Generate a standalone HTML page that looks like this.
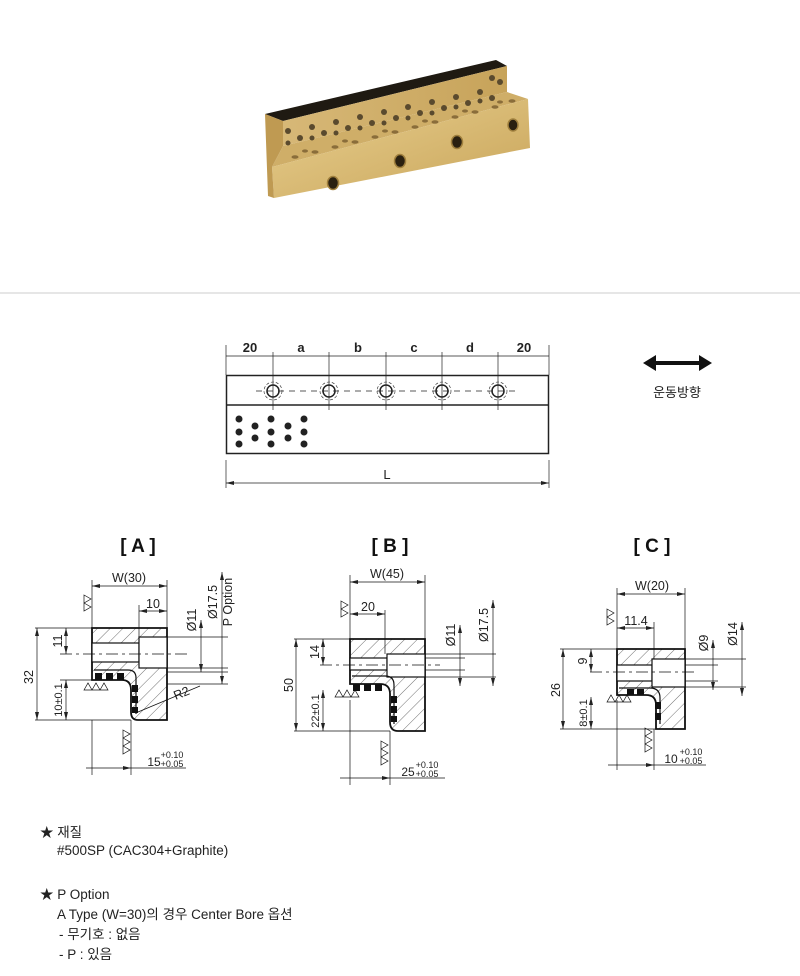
<!DOCTYPE html>
<html><head><meta charset="utf-8"><style>
html,body{margin:0;padding:0;background:#fff;}
body{width:800px;height:976px;position:relative;overflow:hidden;font-family:"Liberation Sans","Noto Sans CJK KR",sans-serif;}
.t{position:absolute;font-size:13.5px;color:#222;white-space:nowrap;font-family:"Liberation Sans","Noto Sans CJK KR",sans-serif;}
</style></head><body>
<svg width="800" height="976" viewBox="0 0 800 976" style="position:absolute;left:0;top:0" font-family="Liberation Sans, Noto Sans CJK KR, sans-serif">
<defs>
<pattern id="h" width="9" height="9" patternUnits="userSpaceOnUse" patternTransform="rotate(45)">
<line x1="0" y1="0" x2="0" y2="9" stroke="#333" stroke-width="0.7"/></pattern>
<marker id="a" markerWidth="8" markerHeight="6" refX="8" refY="3" orient="auto-start-reverse" markerUnits="userSpaceOnUse"><path d="M0,1 L8,3 L0,5Z" fill="#222"/></marker>
<linearGradient id="g1" x1="0" y1="0" x2="1" y2="1"><stop offset="0" stop-color="#e8cf8f"/><stop offset="1" stop-color="#c9a55a"/></linearGradient>
<linearGradient id="g2" x1="0" y1="0" x2="1" y2="0"><stop offset="0" stop-color="#d7b877"/><stop offset="1" stop-color="#c7a35a"/></linearGradient>
</defs>

<!-- photo -->
<polygon points="265,114 496,60 507,66 283,121" fill="#1f1a12"/>
<polygon points="283,121 507,66 507,92 283,146" fill="url(#g2)"/>
<polygon points="283,146 507,92 528,99 272,167" fill="#cfae68"/>
<polygon points="272,167 528,99 530,148 274,198" fill="url(#g1)"/>
<polygon points="265,114 283,121 283,146 272,167 274,198 268,196" fill="#bf9a52"/>
<g fill="#5a4a2e">
<circle cx="288" cy="131" r="3"/><circle cx="300" cy="138" r="3"/><circle cx="312" cy="127" r="3"/><circle cx="324" cy="133" r="3"/><circle cx="336" cy="122" r="3"/><circle cx="348" cy="128" r="3"/><circle cx="360" cy="117" r="3"/><circle cx="372" cy="123" r="3"/><circle cx="384" cy="112" r="3"/><circle cx="396" cy="118" r="3"/><circle cx="408" cy="107" r="3"/><circle cx="420" cy="113" r="3"/><circle cx="432" cy="102" r="3"/><circle cx="444" cy="108" r="3"/><circle cx="456" cy="97" r="3"/><circle cx="468" cy="103" r="3"/><circle cx="480" cy="92" r="3"/><circle cx="492" cy="98" r="3"/><circle cx="500" cy="82" r="3"/><circle cx="492" cy="78" r="3"/>
<circle cx="288" cy="143" r="2.5"/><circle cx="312" cy="138" r="2.5"/><circle cx="336" cy="133" r="2.5"/><circle cx="360" cy="128" r="2.5"/><circle cx="384" cy="123" r="2.5"/><circle cx="408" cy="118" r="2.5"/><circle cx="432" cy="113" r="2.5"/><circle cx="456" cy="107" r="2.5"/><circle cx="480" cy="101" r="2.5"/>
</g>
<g fill="#8a6d3a">
<ellipse cx="295" cy="157" rx="3.5" ry="1.8"/><ellipse cx="315" cy="152" rx="3.5" ry="1.8"/><ellipse cx="335" cy="147" rx="3.5" ry="1.8"/><ellipse cx="355" cy="142" rx="3.5" ry="1.8"/><ellipse cx="375" cy="137" rx="3.5" ry="1.8"/><ellipse cx="395" cy="132" rx="3.5" ry="1.8"/><ellipse cx="415" cy="127" rx="3.5" ry="1.8"/><ellipse cx="435" cy="122" rx="3.5" ry="1.8"/><ellipse cx="455" cy="117" rx="3.5" ry="1.8"/><ellipse cx="475" cy="112" rx="3.5" ry="1.8"/><ellipse cx="495" cy="107" rx="3.5" ry="1.8"/><ellipse cx="512" cy="101" rx="3.5" ry="1.8"/>
<ellipse cx="305" cy="151" rx="3" ry="1.6"/><ellipse cx="345" cy="141" rx="3" ry="1.6"/><ellipse cx="385" cy="131" rx="3" ry="1.6"/><ellipse cx="425" cy="121" rx="3" ry="1.6"/><ellipse cx="465" cy="111" rx="3" ry="1.6"/><ellipse cx="500" cy="102" rx="3" ry="1.6"/>
</g>
<g fill="#2a2010" stroke="#a0803e" stroke-width="1.5">
<ellipse cx="333" cy="183" rx="5.5" ry="6.5"/><ellipse cx="400" cy="161" rx="5.5" ry="6.5"/><ellipse cx="457" cy="142" rx="5.5" ry="6.5"/><ellipse cx="513" cy="125" rx="5" ry="6"/>
</g>

<line x1="0" y1="293" x2="800" y2="293" stroke="#ccc" stroke-width="1"/>

<!-- top view -->
<g stroke="#222" fill="none">
<rect x="226.5" y="375.5" width="322" height="78" stroke-width="1.5"/>
<line x1="226" y1="405" x2="549" y2="405" stroke-width="1.5"/>
<line x1="226" y1="356" x2="549" y2="356" stroke-width="0.7"/>
<g stroke-width="0.7"><line x1="226" y1="345" x2="226" y2="375"/><line x1="549" y1="345" x2="549" y2="375"/>
<line x1="226" y1="460" x2="226" y2="488"/><line x1="549" y1="460" x2="549" y2="488"/>
<line x1="226" y1="483" x2="549" y2="483" marker-start="url(#a)" marker-end="url(#a)"/>
<line x1="256" y1="391" x2="518" y2="391" stroke-dasharray="6,5"/></g>
<g stroke-width="0.7">
<line x1="273" y1="352" x2="273" y2="410"/><line x1="329" y1="352" x2="329" y2="410"/><line x1="386" y1="352" x2="386" y2="410"/><line x1="442" y1="352" x2="442" y2="410"/><line x1="498" y1="352" x2="498" y2="410"/></g>
<g stroke-width="1.5"><circle cx="273" cy="391" r="6"/><circle cx="329" cy="391" r="6"/><circle cx="386" cy="391" r="6"/><circle cx="442" cy="391" r="6"/><circle cx="498" cy="391" r="6"/></g>
<g stroke-width="0.6" stroke-dasharray="3,2"><circle cx="273" cy="391" r="9"/><circle cx="329" cy="391" r="9"/><circle cx="386" cy="391" r="9"/><circle cx="442" cy="391" r="9"/><circle cx="498" cy="391" r="9"/></g>
</g>
<g fill="#222"><circle cx="239" cy="419" r="3.5"/><circle cx="239" cy="432" r="3.5"/><circle cx="239" cy="444" r="3.5"/><circle cx="255" cy="426" r="3.5"/><circle cx="255" cy="438" r="3.5"/><circle cx="271" cy="419" r="3.5"/><circle cx="271" cy="432" r="3.5"/><circle cx="271" cy="444" r="3.5"/><circle cx="288" cy="426" r="3.5"/><circle cx="288" cy="438" r="3.5"/><circle cx="304" cy="419" r="3.5"/><circle cx="304" cy="432" r="3.5"/><circle cx="304" cy="444" r="3.5"/></g>
<g font-size="13" font-weight="bold" fill="#222" text-anchor="middle">
<text x="250" y="352">20</text><text x="301" y="352">a</text><text x="358" y="352">b</text><text x="414" y="352">c</text><text x="470" y="352">d</text><text x="524" y="352">20</text>
<text x="387" y="479" font-weight="normal">L</text></g>
<line x1="652" y1="363" x2="703" y2="363" stroke="#111" stroke-width="4"/>
<polygon points="643,363 656,355 656,371" fill="#111"/><polygon points="712,363 699,355 699,371" fill="#111"/>
<text x="677" y="397" font-size="13" text-anchor="middle" fill="#222">운동방향</text>

<g font-size="19" font-weight="bold" fill="#111" text-anchor="middle"><text x="138" y="552">[ A ]</text><text x="390" y="552">[ B ]</text><text x="652" y="552">[ C ]</text></g>

<!-- Section A -->
<g stroke="#111" font-size="12.5" fill="#222">
<path d="M92,628 H167 V720 H138 Q131,720 131,712 V690 Q131,680 122,680 H92 Z" fill="url(#h)" stroke-width="1.8"/>
<rect x="92" y="643" width="47" height="19" fill="#fff" stroke-width="1.2"/>
<rect x="139" y="637" width="28" height="31" fill="#fff" stroke-width="1.2"/>
<path d="M94,670 H128 Q136,670 136,678 V714" fill="none" stroke-width="1.2"/>
<g fill="#111" stroke="none"><rect x="95" y="673" width="7" height="7"/><rect x="106" y="673" width="7" height="7"/><rect x="117" y="673" width="7" height="7"/><rect x="132" y="685" width="6" height="7"/><rect x="132" y="696" width="6" height="7"/><rect x="132" y="707" width="6" height="6"/></g>
<g stroke-width="0.7" fill="none">
<line x1="60" y1="654" x2="190" y2="654" stroke-dasharray="12,4,3,4"/>
<line x1="92" y1="580" x2="92" y2="628"/><line x1="167" y1="580" x2="167" y2="628"/><line x1="139" y1="605" x2="139" y2="637"/>
<line x1="92" y1="586" x2="167" y2="586" marker-start="url(#a)" marker-end="url(#a)"/>
<line x1="139" y1="611" x2="167" y2="611" marker-start="url(#a)" marker-end="url(#a)"/>
<line x1="35" y1="628" x2="92" y2="628"/><line x1="35" y1="720" x2="131" y2="720"/><line x1="60" y1="680" x2="92" y2="680"/>
<line x1="37" y1="628" x2="37" y2="720" marker-start="url(#a)" marker-end="url(#a)"/>
<line x1="66" y1="628" x2="66" y2="654" marker-start="url(#a)" marker-end="url(#a)"/>
<line x1="66" y1="680" x2="66" y2="720" marker-start="url(#a)" marker-end="url(#a)"/>
<line x1="92" y1="720" x2="92" y2="775"/><line x1="131" y1="720" x2="131" y2="775"/>
<line x1="86" y1="768" x2="131" y2="768" marker-end="url(#a)"/><line x1="131" y1="768" x2="186" y2="768"/>
<line x1="167" y1="637" x2="228" y2="637"/><line x1="167" y1="668" x2="228" y2="668"/><line x1="167" y1="672" x2="228" y2="672"/><line x1="167" y1="684" x2="228" y2="684"/>
<line x1="201" y1="620" x2="201" y2="672" marker-start="url(#a)" marker-end="url(#a)"/>
<line x1="222" y1="572" x2="222" y2="684" marker-start="url(#a)" marker-end="url(#a)"/>
<line x1="138" y1="712" x2="200" y2="686"/>
<path d="M84,595 l7,4 l-7,4 z M84,603 l7,4 l-7,4 z"/>
<path d="M84,690 l4,-7 l4,7 z M92,690 l4,-7 l4,7 z M100,690 l4,-7 l4,7 z"/>
<path d="M123,730 l7,4 l-7,4 z M123,738 l7,4 l-7,4 z M123,746 l7,4 l-7,4 z"/>
</g>
<g stroke="none" text-anchor="middle">
<text x="129" y="582">W(30)</text><text x="153" y="608">10</text>
<text transform="translate(38,677) rotate(-90)" x="0" y="0" dy="-5">32</text>
<text transform="translate(66,641) rotate(-90)" dy="-4">11</text>
<text transform="translate(66,700) rotate(-90)" dy="-4" font-size="11">10±0.1</text>
<text transform="translate(200,620) rotate(-90)" dy="-4">Ø11</text>
<text transform="translate(218,602) rotate(-90)" dy="-1">Ø17.5</text>
<text transform="translate(232,602) rotate(-90)" dy="0">P Option</text>
<text x="183" y="697" transform="rotate(-22 183 697)">R2</text>
<text x="154" y="766" font-size="12">15</text><text x="172" y="758" font-size="9">+0.10</text><text x="172" y="767" font-size="9">+0.05</text>
</g></g>

<!-- Section B -->
<g stroke="#111" font-size="12.5" fill="#222">
<path d="M350,639 H425 V731 H398 Q390,731 390,722 V694 Q390,684 380,684 H350 Z" fill="url(#h)" stroke-width="1.8"/>
<rect x="350" y="658" width="37" height="12" fill="#fff" stroke-width="1.2"/>
<rect x="387" y="654" width="38" height="23" fill="#fff" stroke-width="1.2"/>
<path d="M352,676 H385 Q394,676 394,685 V724" fill="none" stroke-width="1.2"/>
<g fill="#111" stroke="none"><rect x="353" y="684" width="7" height="7"/><rect x="364" y="684" width="7" height="7"/><rect x="375" y="684" width="7" height="7"/><rect x="391" y="696" width="6" height="7"/><rect x="391" y="706" width="6" height="7"/><rect x="391" y="716" width="6" height="6"/></g>
<g stroke-width="0.7" fill="none">
<line x1="320" y1="665" x2="440" y2="665" stroke-dasharray="12,4,3,4"/>
<line x1="350" y1="575" x2="350" y2="639"/><line x1="425" y1="575" x2="425" y2="639"/><line x1="385" y1="610" x2="385" y2="654"/>
<line x1="350" y1="582" x2="425" y2="582" marker-start="url(#a)" marker-end="url(#a)"/>
<line x1="350" y1="614" x2="385" y2="614" marker-start="url(#a)" marker-end="url(#a)"/>
<line x1="294" y1="639" x2="350" y2="639"/><line x1="294" y1="731" x2="390" y2="731"/>
<line x1="296" y1="639" x2="296" y2="731" marker-start="url(#a)" marker-end="url(#a)"/>
<line x1="323" y1="639" x2="323" y2="665" marker-start="url(#a)" marker-end="url(#a)"/>
<line x1="323" y1="690" x2="323" y2="731" marker-start="url(#a)" marker-end="url(#a)"/>
<line x1="350" y1="700" x2="350" y2="785"/><line x1="390" y1="731" x2="390" y2="785"/>
<line x1="340" y1="778" x2="390" y2="778" marker-end="url(#a)"/><line x1="390" y1="778" x2="445" y2="778"/>
<line x1="425" y1="654" x2="496" y2="654"/><line x1="425" y1="677" x2="496" y2="677"/><line x1="425" y1="658" x2="465" y2="658"/><line x1="425" y1="670" x2="465" y2="670"/>
<line x1="460" y1="625" x2="460" y2="686" marker-start="url(#a)" marker-end="url(#a)"/>
<line x1="493" y1="600" x2="493" y2="686" marker-start="url(#a)" marker-end="url(#a)"/>
<path d="M341,601 l7,4 l-7,4 z M341,609 l7,4 l-7,4 z"/>
<path d="M335,697 l4,-7 l4,7 z M343,697 l4,-7 l4,7 z M351,697 l4,-7 l4,7 z"/>
<path d="M381,741 l7,4 l-7,4 z M381,749 l7,4 l-7,4 z M381,757 l7,4 l-7,4 z"/>
</g>
<g stroke="none" text-anchor="middle">
<text x="387" y="578">W(45)</text><text x="368" y="611">20</text>
<text transform="translate(297,685) rotate(-90)" dy="-4">50</text>
<text transform="translate(323,652) rotate(-90)" dy="-4">14</text>
<text transform="translate(323,711) rotate(-90)" dy="-4" font-size="11">22±0.1</text>
<text transform="translate(459,635) rotate(-90)" dy="-4">Ø11</text>
<text transform="translate(492,625) rotate(-90)" dy="-4">Ø17.5</text>
<text x="408" y="776" font-size="12">25</text><text x="427" y="768" font-size="9">+0.10</text><text x="427" y="777" font-size="9">+0.05</text>
</g></g>

<!-- Section C -->
<g stroke="#111" font-size="12.5" fill="#222">
<path d="M617,649 H685 V729 H656 V705 Q656,695 646,695 H617 Z" fill="url(#h)" stroke-width="1.8"/>
<rect x="617" y="665" width="35" height="16" fill="#fff" stroke-width="1.2"/>
<rect x="652" y="659" width="33" height="28" fill="#fff" stroke-width="1.2"/>
<path d="M619,688 H650 Q660,688 660,698 V724" fill="none" stroke-width="1.2"/>
<g fill="#111" stroke="none"><rect x="627" y="689" width="7" height="6"/><rect x="637" y="689" width="7" height="6"/><rect x="655" y="702" width="6" height="7"/><rect x="655" y="713" width="6" height="7"/></g>
<g stroke-width="0.7" fill="none">
<line x1="590" y1="672" x2="695" y2="672" stroke-dasharray="12,4,3,4"/>
<line x1="617" y1="588" x2="617" y2="649"/><line x1="685" y1="588" x2="685" y2="649"/><line x1="654" y1="622" x2="654" y2="659"/>
<line x1="617" y1="594" x2="685" y2="594" marker-start="url(#a)" marker-end="url(#a)"/>
<line x1="617" y1="628" x2="654" y2="628" marker-start="url(#a)" marker-end="url(#a)"/>
<line x1="560" y1="649" x2="617" y2="649"/><line x1="560" y1="729" x2="656" y2="729"/>
<line x1="563" y1="649" x2="563" y2="729" marker-start="url(#a)" marker-end="url(#a)"/>
<line x1="591" y1="649" x2="591" y2="672" marker-start="url(#a)" marker-end="url(#a)"/>
<line x1="591" y1="697" x2="591" y2="729" marker-start="url(#a)" marker-end="url(#a)"/>
<line x1="617" y1="700" x2="617" y2="770"/><line x1="654" y1="729" x2="654" y2="770"/>
<line x1="608" y1="765" x2="654" y2="765" marker-end="url(#a)"/><line x1="654" y1="765" x2="706" y2="765"/>
<line x1="685" y1="659" x2="746" y2="659"/><line x1="685" y1="687" x2="746" y2="687"/><line x1="685" y1="665" x2="718" y2="665"/><line x1="685" y1="681" x2="718" y2="681"/>
<line x1="713" y1="640" x2="713" y2="690" marker-start="url(#a)" marker-end="url(#a)"/>
<line x1="742" y1="622" x2="742" y2="696" marker-start="url(#a)" marker-end="url(#a)"/>
<path d="M607,609 l7,4 l-7,4 z M607,617 l7,4 l-7,4 z"/>
<path d="M607,702 l4,-7 l4,7 z M615,702 l4,-7 l4,7 z M623,702 l4,-7 l4,7 z"/>
<path d="M645,728 l7,4 l-7,4 z M645,736 l7,4 l-7,4 z M645,744 l7,4 l-7,4 z"/>
</g>
<g stroke="none" text-anchor="middle">
<text x="652" y="590">W(20)</text><text x="636" y="625">11.4</text>
<text transform="translate(564,690) rotate(-90)" dy="-4">26</text>
<text transform="translate(591,661) rotate(-90)" dy="-4">9</text>
<text transform="translate(591,713) rotate(-90)" dy="-4" font-size="11">8±0.1</text>
<text transform="translate(712,643) rotate(-90)" dy="-4">Ø9</text>
<text transform="translate(741,634) rotate(-90)" dy="-4">Ø14</text>
<text x="671" y="763" font-size="12">10</text><text x="691" y="755" font-size="9">+0.10</text><text x="691" y="764" font-size="9">+0.05</text>
</g></g>
</svg>
<div class="t" style="left:40px;top:821px">★ 재질</div>
<div class="t" style="left:57px;top:843px">#500SP (CAC304+Graphite)</div>
<div class="t" style="left:40px;top:883px">★ P Option</div>
<div class="t" style="left:57px;top:903px">A Type (W=30)의 경우 Center Bore 옵션</div>
<div class="t" style="left:59px;top:923px">- 무기호 : 없음</div>
<div class="t" style="left:59px;top:943px">- P : 있음</div>
</body></html>
